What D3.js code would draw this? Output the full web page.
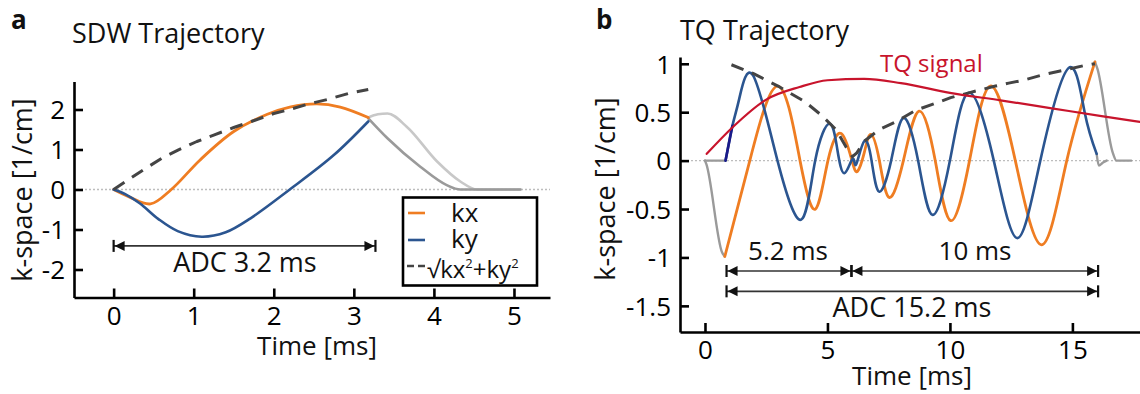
<!DOCTYPE html>
<html><head><meta charset="utf-8">
<script src="https://cdn.jsdelivr.net/npm/d3@7"></script>
<style>
body{margin:0;background:#fff;}
svg{display:block;font-family:"Open Sans",sans-serif;}
</style>
</head><body>
<svg id="c" width="1140" height="394"></svg>
<script>
// ---------- Panel a : SDW trajectory ----------
const aXTicks = [0, 1, 2, 3, 4, 5];
const aYTicks = [-2, -1, 0, 1, 2];
const aKxT = [0, 0.2, 0.46, 0.72, 1.08, 1.5, 1.92, 2.2, 2.54, 2.83, 3.18];
const aKx  = [0, -0.19, -0.36, 0, 0.74, 1.45, 1.88, 2.06, 2.14, 2.06, 1.80];
const aKyT = [0, 0.15, 0.33, 0.56, 0.8, 1.1, 1.4, 1.71, 2.2, 2.75, 3.18];
const aKy  = [0, -0.12, -0.35, -0.74, -1.04, -1.18, -1.07, -0.72, 0, 0.86, 1.70];
const aMagT = [0, 0.37, 0.6, 0.81, 1.04, 1.25, 1.5, 1.72, 2.0, 2.2, 2.44, 2.67, 2.93, 3.18];
const aMag  = [0, 0.49, 0.78, 0.99, 1.2, 1.36, 1.55, 1.7, 1.9, 2.0, 2.14, 2.25, 2.4, 2.5];
const aRewXT = [3.18, 3.3, 3.42, 3.66, 4.04, 4.33, 4.54, 5.08];
const aRewX  = [1.80, 1.88, 1.90, 1.57, 0.70, 0.2, 0, 0];
const aRewYT = [3.18, 3.42, 3.83, 4.16, 4.33, 5.08];
const aRewY  = [1.78, 1.28, 0.57, 0.11, 0, 0];
const aAdc = [0, 3.27];

// ---------- Panel b : TQ trajectory ----------
const bXTicks = [0, 5, 10, 15];
const bYTicks = [-1.5, -1, -0.5, 0, 0.5, 1];
const bKxT = [0.81, 1.83, 2.98, 3.88, 4.51, 5.02, 5.56, 6.0, 6.23, 6.5, 6.77, 7.12, 7.52, 8.1, 8.74, 9.4, 10.03, 10.8, 11.65, 12.67, 13.75, 14.77, 15.92];
const bKx  = [-0.99, 0, 0.77, 0, -0.50, 0, 0.28, 0, -0.11, 0.08, 0.27, 0, -0.38, 0, 0.51, 0, -0.62, 0, 0.77, 0, -0.87, 0, 1.02];
const bKyT = [0.84, 1.12, 1.4, 1.96, 2.96, 3.93, 4.5, 5.08, 5.4, 5.69, 6.03, 6.17, 6.5, 6.8, 7.11, 7.6, 8.1, 8.7, 9.28, 10.0, 10.77, 11.79, 12.74, 13.69, 14.84, 15.5, 15.99];
const bKy  = [0, 0.36, 0.64, 0.88, 0, -0.61, 0, 0.38, 0.12, -0.13, 0.02, -0.04, 0.20, 0, -0.32, 0, 0.44, 0, -0.56, 0, 0.70, 0, -0.80, 0, 0.955, 0.5, 0.07];
const bMagT = [1.08, 1.96, 2.98, 4.07, 4.75, 5.35, 5.76, 6.02, 6.2, 6.5, 7.11, 7.79, 8.6, 9.28, 10.03, 10.77, 11.86, 12.4, 13.0, 13.7, 14.76, 15.45, 15.92];
const bMag  = [0.99, 0.90, 0.77, 0.61, 0.47, 0.32, 0.14, 0.04, 0.08, 0.2, 0.32, 0.40, 0.52, 0.58, 0.65, 0.70, 0.77, 0.80, 0.83, 0.88, 0.94, 0.98, 1.0];
const bSigT = [0.07, 1.15, 2.5, 3.86, 5.0, 6.5, 8.0, 10.0, 12.13, 14.16, 16.19, 17.76];
const bSig  = [0.07, 0.35, 0.63, 0.76, 0.83, 0.845, 0.80, 0.70, 0.62, 0.54, 0.46, 0.40];
const bPreXT = [0, 0.06, 0.7, 0.81];
const bPreX  = [0, -0.04, -0.95, -0.99];
const bPreYT = [0, 0.84];
const bPreY  = [0, 0];
const bPostXT = [15.92, 16.02, 16.65, 16.8, 17.4];
const bPostX  = [1.02, 0.95, 0.08, 0, 0];
const bPostYT = [15.99, 16.08, 16.25, 16.4];
const bPostY  = [0.07, -0.05, -0.02, 0];
const bSpans = [[0.88, 5.98], [5.98, 16.05]];
const bAdc = [0.88, 16.05];

const C = {orange:"#ef7d22", blue:"#2b5590", navy:"#1a1a8a", dash:"#444", red:"#c8142c",
           grey:"#9a9a9a", lgrey:"#c8c8c8"};

const svg = d3.select("#c");
const pts = (T, V) => T.map((t, i) => [t, V[i]]);

function styleAxis(g){
  g.selectAll(".domain").attr("stroke","#000").attr("stroke-width",2.6);
  g.selectAll(".tick line").attr("stroke","#000").attr("stroke-width",2.6);
  g.selectAll(".tick text").attr("fill","#000").style("font-size","26px")
    .style("font-family","'Open Sans',sans-serif");
}

function panel(cfg){
  const g = svg.append("g");
  const x = d3.scaleLinear().domain(cfg.xd).range(cfg.xr);
  const y = d3.scaleLinear().domain(cfg.yd).range(cfg.yr);
  const line = (curve) => d3.line().x(d => x(d[0])).y(d => y(d[1])).curve(curve || d3.curveMonotoneX);
  g.append("line").attr("x1", cfg.xr[0] + 3).attr("x2", cfg.xr[1]).attr("y1", y(0)).attr("y2", y(0))
    .attr("stroke","#bdbdbd").attr("stroke-width",1.3).attr("stroke-dasharray","2,2");
  const gx = g.append("g").attr("transform", `translate(0,${cfg.yr[0]})`)
    .call(d3.axisBottom(x).tickValues(cfg.xt).tickFormat(d => String(d)).tickSizeInner(-9).tickSizeOuter(0).tickPadding(9));
  styleAxis(gx);
  const gy = g.append("g").attr("transform", `translate(${cfg.xr[0]},0)`)
    .call(d3.axisLeft(y).tickValues(cfg.yt).tickFormat(d => String(d)).tickSizeInner(-9).tickSizeOuter(0).tickPadding(9));
  styleAxis(gy);
  gy.selectAll(".tick text").attr("dy","0.36em");
  return {g, x, y, line};
}

function path(P, data, color, width, dash, curve){
  P.g.append("path").datum(data).attr("d", P.line(curve)).attr("fill","none")
    .attr("stroke", color).attr("stroke-width", width).attr("stroke-linejoin","round")
    .attr("stroke-linecap", dash ? "butt" : "round")
    .attr("stroke-dasharray", dash || null);
}

function span(P, t0, t1, v){
  const g = P.g, y = P.y(v), x0 = P.x(t0), x1 = P.x(t1);
  g.append("line").attr("x1",x0).attr("x2",x1).attr("y1",y).attr("y2",y).attr("stroke","#333").attr("stroke-width",1.6);
  [x0, x1].forEach((xx, i) => {
    const s = i === 0 ? 1 : -1;
    g.append("line").attr("x1",xx).attr("x2",xx).attr("y1",y-6).attr("y2",y+6).attr("stroke","#111").attr("stroke-width",2.2);
    g.append("path").attr("d", `M${xx+s*1},${y} L${xx+s*11},${y-5} L${xx+s*11},${y+5} Z`).attr("fill","#111");
  });
}

function txt(x, y, s, size, opts){
  opts = opts || {};
  return svg.append("text").attr("x",x).attr("y",y).text(s).style("font-size",size+"px")
    .attr("fill", opts.fill || "#111").attr("text-anchor", opts.anchor || "start")
    .style("font-weight", opts.bold ? "700" : "400");
}

// ---- Panel a ----
const A = panel({xd:[-0.495, 5.45], xr:[74, 550], yd:[-2.7, 2.7], yr:[297.5, 81.5], xt:aXTicks, yt:aYTicks});
path(A, pts(aRewXT, aRewX), C.lgrey, 2.6);
path(A, pts(aRewYT, aRewY), C.grey, 2.6);
path(A, pts(aKxT, aKx), C.orange, 2.8, null, d3.curveCatmullRom.alpha(0.5));
path(A, pts(aKyT, aKy), C.blue, 2.6, null, d3.curveCatmullRom.alpha(0.5));
path(A, pts(aMagT, aMag), C.dash, 3, "13,9", d3.curveLinear);
span(A, aAdc[0], aAdc[1], -1.41);
txt(A.x(1.64), 272, "ADC 3.2 ms", 27, {anchor:"middle"});

// legend
const lg = svg.append("g");
lg.append("rect").attr("x",403).attr("y",197.5).attr("width",134).attr("height",88)
  .attr("fill","#fff").attr("stroke","#000").attr("stroke-width",2.6);
lg.append("line").attr("x1",408).attr("x2",425).attr("y1",213).attr("y2",213).attr("stroke",C.orange).attr("stroke-width",2.6);
lg.append("line").attr("x1",408).attr("x2",425).attr("y1",240).attr("y2",240).attr("stroke",C.blue).attr("stroke-width",2.6);
lg.append("line").attr("x1",407).attr("x2",427).attr("y1",266).attr("y2",266).attr("stroke",C.dash).attr("stroke-width",2.4).attr("stroke-dasharray","7,4");
txt(451, 222, "kx", 26);
txt(451, 248, "ky", 26);
const sq = txt(427, 278, "√kx", 24);
sq.append("tspan").attr("dy",-10).style("font-size","13px").text("2");
sq.append("tspan").attr("dy",10).text("+ky");
sq.append("tspan").attr("dy",-10).style("font-size","13px").text("2");

// titles/labels
txt(11, 29, "a", 26, {bold:true});
txt(72, 43, "SDW Trajectory", 27);
txt(317, 355, "Time [ms]", 26, {anchor:"middle"});
svg.append("text").attr("transform","translate(32,190) rotate(-90)").attr("text-anchor","middle")
  .style("font-size","27px").attr("fill","#111").text("k-space [1/cm]");

// ---- Panel b ----
const B = panel({xd:[-1.02, 17.76], xr:[680, 1140], yd:[-1.77, 1.07], yr:[332, 57], xt:bXTicks, yt:bYTicks});
path(B, pts(bPreXT, bPreX), C.grey, 2.4);
path(B, pts(bPreYT, bPreY), C.grey, 2.4);
path(B, pts(bPostXT, bPostX), C.grey, 2.4);
path(B, pts(bPostYT, bPostY), C.grey, 2.4);
path(B, pts(bKxT, bKx), C.orange, 2.8, null, d3.curveNatural);
path(B, pts(bKyT, bKy), C.blue, 2.6, null, d3.curveNatural);
path(B, pts(bKyT.slice(0,2), bKy.slice(0,2)), C.navy, 2.6, null, d3.curveLinear);
path(B, pts(bMagT, bMag), C.dash, 3, "13,9", d3.curveLinear);
path(B, pts(bSigT, bSig), C.red, 2.2, null, d3.curveMonotoneX);
bSpans.forEach(s => span(B, s[0], s[1], -1.14));
span(B, bAdc[0], bAdc[1], -1.35);
txt(788, 260, "5.2 ms", 26, {anchor:"middle"});
txt(975, 260, "10 ms", 26, {anchor:"middle"});
txt(912, 317, "ADC 15.2 ms", 27, {anchor:"middle"});
txt(880, 72, "TQ signal", 24, {fill:C.red});

txt(596, 29, "b", 26, {bold:true});
txt(680, 40, "TQ Trajectory", 27);
txt(912, 385, "Time [ms]", 26, {anchor:"middle"});
svg.append("text").attr("transform","translate(615,189) rotate(-90)").attr("text-anchor","middle")
  .style("font-size","27px").attr("fill","#111").text("k-space [1/cm]");
</script>
</body></html>
